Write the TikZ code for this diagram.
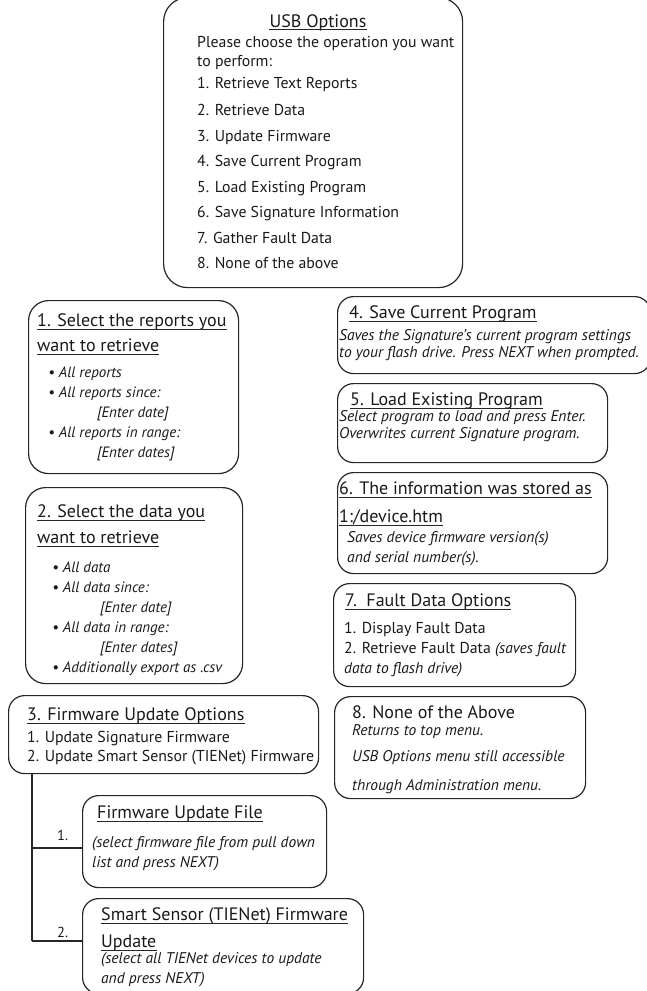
\documentclass[tikz,border=0pt]{standalone}
\usepackage{fontspec}
\setmainfont{PT Sans}
\begin{document}
\begin{tikzpicture}[x=1pt,y=-1pt,
  box/.style={draw=black!85, line width=1.2pt, rounded corners=16pt, anchor=north west, inner sep=0pt},
  txt/.style={anchor=base west, inner sep=0pt, text=black!90, font=\fontsize{15.8}{18}\selectfont},
  ttl/.style={txt, font=\fontsize{18}{21}\selectfont},
  itx/.style={txt, font=\fontsize{15.5}{17}\selectfont\itshape},
  itb/.style={txt, font=\fontsize{15}{17}\selectfont\itshape},
  conn/.style={draw=black!85, line width=1.2pt},
  ulin/.style={draw=black!85, line width=0.8pt}]
\useasboundingbox (0,0) rectangle (647,991);
\clip (0,0) rectangle (647,991);
% boxes
\node[box, rounded corners=24pt, minimum width=299pt, minimum height=290pt] (b0) at (163,-3) {};
\node[box, rounded corners=20pt, minimum width=210pt, minimum height=173pt] (b1) at (28,300) {};
\node[box, rounded corners=20pt, minimum width=217pt, minimum height=196pt] (b2) at (25,487) {};
\node[box, minimum width=310pt, minimum height=78pt] (b3) at (8,695) {};
\node[box, minimum width=244pt, minimum height=92pt] (b31) at (82,795) {};
\node[box, minimum width=281pt, minimum height=95pt] (b32) at (82,898) {};
\node[box, minimum width=313pt, minimum height=77pt] (b4) at (337,296) {};
\node[box, minimum width=270pt, minimum height=79pt] (b5) at (337,383) {};
\node[box, minimum width=270pt, minimum height=101pt] (b6) at (337,472) {};
\node[box, minimum width=242pt, minimum height=103pt] (b7) at (333,583) {};
\node[box, minimum width=251pt, minimum height=102pt] (b8) at (334,696) {};
% top box text
\node[ttl, anchor=base] (t0) at (318,27) {USB Options};
\draw[ulin] ([yshift=-2.5pt]t0.base west) -- ([yshift=-2.5pt]t0.base east);
\node[txt] (t0a) at (197,47) {Please choose the operation you want};
\node[txt] (t0b) at (197,66) {to perform:};
\node[txt] (t0c) at (197,88) {1. Retrieve Text Reports};
\node[txt] (t0d) at (197,115) {2. Retrieve Data};
\node[txt] (t0e) at (197,141) {3. Update Firmware};
\node[txt] (t0f) at (197,166) {4. Save Current Program};
\node[txt] (t0g) at (197,192) {5. Load Existing Program};
\node[txt] (t0h) at (197,217) {6. Save Signature Information};
\node[txt] (t0i) at (197,243) {7. Gather Fault Data};
\node[txt] (t0j) at (197,268) {8. None of the above};
% box 1
\node[ttl] (t1) at (37,326) {1. Select the reports you};
\draw[ulin] ([yshift=-3pt]t1.base west) -- ([yshift=-3pt]t1.base east);
\node[ttl] (t1b) at (37,351) {want to retrieve};
\draw[ulin] ([yshift=-3pt]t1b.base west) -- ([yshift=-3pt]t1b.base east);
\node[itb] (t1c) at (48,377) {• All reports};
\node[itb] (t1d) at (48,397) {• All reports since:};
\node[itb] (t1e) at (97,417) {[Enter date]};
\node[itb] (t1f) at (48,437) {• All reports in range:};
\node[itb] (t1g) at (97,457) {[Enter dates]};
% box 2
\node[ttl] (t2) at (37,517) {2. Select the data you};
\draw[ulin] ([yshift=-3pt]t2.base west) -- ([yshift=-3pt]t2.base east);
\node[ttl] (t2b) at (37,543) {want to retrieve};
\draw[ulin] ([yshift=-3pt]t2b.base west) -- ([yshift=-3pt]t2b.base east);
\node[itb] (t2c) at (52,572) {• All data};
\node[itb] (t2d) at (52,592) {• All data since:};
\node[itb] (t2e) at (100,612) {[Enter date]};
\node[itb] (t2f) at (52,632) {• All data in range:};
\node[itb] (t2g) at (100,652) {[Enter dates]};
\node[itb] (t2h) at (52,672) {• Additionally export as .csv};
% box 3
\node[ttl] (t3) at (27,720) {3. Firmware Update Options};
\draw[ulin] ([yshift=-3pt]t3.base west) -- ([yshift=-3pt]t3.base east);
\node[txt] (t3a) at (27,742) {1. Update Signature Firmware};
\node[txt] (t3b) at (27,761) {2. Update Smart Sensor (TIENet) Firmware};
% box 3.1
\node[ttl] (t31) at (97,818) {Firmware Update File};
\draw[ulin] ([yshift=-3pt]t31.base west) -- ([yshift=-3pt]t31.base east);
\node[itx] (t31a) at (92,847) {(select firmware file from pull down};
\node[itx] (t31b) at (92,867) {list and press NEXT)};
% box 3.2
\node[ttl] (t32) at (101,920) {Smart Sensor (TIENet) Firmware};
\draw[ulin] ([yshift=-3pt]t32.base west) -- ([yshift=-3pt]t32.base east);
\node[ttl] (t32b) at (101,947) {Update};
\draw[ulin] ([yshift=-3pt]t32b.base west) -- ([yshift=-3pt]t32b.base east);
\node[itx] (t32c) at (101,963) {(select all TIENet devices to update};
\node[itx] (t32d) at (101,983) {and press NEXT)};
% connectors
\coordinate (j1) at (32,848);
\coordinate (j2) at (32,941);
\draw[conn] (b3.south -| j1) -- (j2);
\draw[conn] (j1) -- (j1 -| b31.west);
\draw[conn] (j2) -- (j2 -| b32.west);
\node[txt, font=\fontsize{14.5}{16}\selectfont] (l1) at (57,840) {1.};
\node[txt, font=\fontsize{14.5}{16}\selectfont] (l2) at (57,937) {2.};
% box 4
\node[ttl] (t4) at (349,318) {4. Save Current Program};
\draw[ulin] ([yshift=-3pt]t4.base west) -- ([yshift=-3pt]t4.base east);
\node[itx] (t4a) at (339,340) {Saves the Signature’s current program settings};
\node[itx] (t4b) at (339,357) {to your flash drive. Press NEXT when prompted.};
% box 5
\node[ttl] (t5) at (350,405) {5. Load Existing Program};
\draw[ulin] ([yshift=-3pt]t5.base west) -- ([yshift=-3pt]t5.base east);
\node[itx] (t5a) at (339,421) {Select program to load and press Enter.};
\node[itx] (t5b) at (339,438) {Overwrites current Signature program.};
% box 6
\node[ttl] (t6) at (339,494) {6. The information was stored as};
\draw[ulin] ([yshift=-3pt]t6.base west) -- ([yshift=-3pt]t6.base east);
\node[ttl] (t6b) at (339,522) {1:/device.htm};
\draw[ulin] ([yshift=-3pt]t6b.base west) -- ([yshift=-3pt]t6b.base east);
\node[itx] (t6c) at (347,542) {Saves device firmware version(s)};
\node[itx] (t6d) at (347,562) {and serial number(s).};
% box 7
\node[ttl] (t7) at (345,606) {7.\ \ Fault Data Options};
\draw[ulin] ([yshift=-3pt]t7.base west) -- ([yshift=-3pt]t7.base east);
\node[txt] (t7a) at (344,633) {1. Display Fault Data};
\node[txt] (t7b) at (344,653) {2. Retrieve Fault Data \textit{\fontsize{15.5}{17}\selectfont(saves fault}};
\node[itx] (t7c) at (344,673) {data to flash drive)};
% box 8
\node[ttl] (t8) at (352,718) {8. None of the Above};
\node[itx] (t8a) at (352,735) {Returns to top menu.};
\node[itx] (t8b) at (352,761) {USB Options menu still accessible};
\node[itx] (t8c) at (352,790) {through Administration menu.};
\end{tikzpicture}
\end{document}
